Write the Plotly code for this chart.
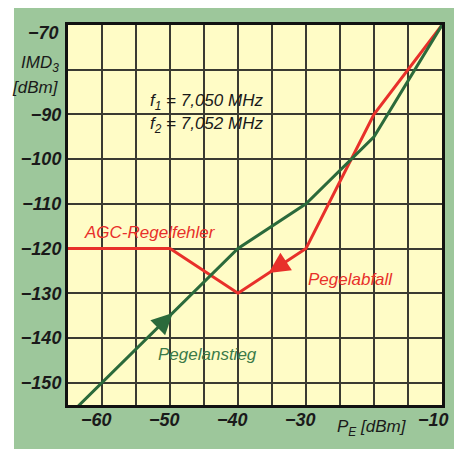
import plotly.graph_objects as go

# Data
pe_up = [-65, -40, -30, -20, -10]          # Pegelanstieg (green)
imd_up = [-157.5, -120, -110, -95, -70]
pe_down = [-65, -50, -40, -30, -20, -10]   # Pegelabfall / AGC (red)
imd_down = [-120, -120, -130, -120, -90, -70]

x_grid = [-65, -60, -55, -50, -45, -40, -35, -30, -25, -20, -15, -10]
x_label_vals = [-60, -50, -40, -30, -10]
x_label_text = ["\u221260", "\u221250", "\u221240", "\u221230", "\u221210"]
y_ticks = [-150, -140, -130, -120, -110, -100, -90, -80, -70]
y_labels = {-150: "\u2212150", -140: "\u2212140", -130: "\u2212130", -120: "\u2212120",
            -110: "\u2212110", -100: "\u2212100", -90: "\u221290", -80: "", -70: ""}

GREEN = "#2b6a3b"
RED = "#e8302a"
GRID = "#3a3a32"
FONT = "Liberation Sans, Arial, sans-serif"

fig = go.Figure()
fig.add_trace(go.Scatter(x=pe_down, y=imd_down, mode="lines",
                         line=dict(color=RED, width=3), hoverinfo="skip"))
fig.add_trace(go.Scatter(x=pe_up, y=imd_up, mode="lines",
                         line=dict(color=GREEN, width=3), hoverinfo="skip"))

tickfont = dict(family=FONT, size=18, color="#1a1a1a", style="italic", weight="bold")

# page body has an 8px margin, so the figure is laid out relative to (8, 8)
fig.update_layout(
    width=454, height=441,
    margin=dict(l=60, r=20, t=17, b=44),
    paper_bgcolor="white",
    plot_bgcolor="rgba(0,0,0,0)",
    showlegend=False,
    xaxis=dict(range=[-65, -10], tickmode="array", tickvals=x_grid,
               ticktext=["" for v in x_grid], automargin=False,
               showgrid=True, gridcolor=GRID, gridwidth=1.6, zeroline=False,
               showline=True, linecolor="#111", linewidth=3, mirror=True,
               ticks=""),
    yaxis=dict(range=[-155, -70], tickmode="array", tickvals=y_ticks,
               ticktext=[y_labels[v] for v in y_ticks], automargin=False,
               showgrid=True, gridcolor=GRID, gridwidth=1.6, zeroline=False,
               showline=True, linecolor="#111", linewidth=3, mirror=True,
               ticks="", tickfont=tickfont),
    shapes=[
        dict(type="rect", xref="paper", yref="paper", x0=-0.1444, x1=1.0321,
             y0=-0.2, y1=1.1, fillcolor="#9dc79b", line=dict(width=0), layer="below"),
        dict(type="rect", xref="paper", yref="paper", x0=0, x1=1, y0=0, y1=1,
             fillcolor="#fffcc6", line=dict(width=0), layer="below"),
    ],
)

def txt(x, y, s, color, size=17, xanchor="left", xref="x", yref="y", weight="normal"):
    fig.add_annotation(x=x, y=y, xref=xref, yref=yref, text=s, showarrow=False,
                       xanchor=xanchor, yanchor="middle",
                       font=dict(family=FONT, size=size, color=color, style="italic", weight=weight))

# x tick labels (the -20 slot carries the axis title)
for v, t in zip(x_label_vals, x_label_text):
    xv = v - 1.2 if v == -10 else v - 0.8
    txt(xv, -0.039, t, "#1a1a1a", size=18, xanchor="center", yref="paper", weight="bold")
txt(-20.3, -0.06, "P<sub>E</sub> [dBm]", "#1a1a1a", xanchor="center", yref="paper")

txt(-53.2, -87.3, "f<sub>1</sub> = 7,050 MHz", "#1a1a1a")
txt(-53.2, -92.4, "f<sub>2</sub> = 7,052 MHz", "#1a1a1a")
txt(-62.9, -116.4, "AGC-Regelfehler", RED)
txt(-30.0, -126.9, "Pegelabfall", RED)
txt(-52.1, -143.8, "Pegelanstieg", "#3b7a48")

# y-axis top label and title
fig.add_annotation(x=-0.018, y=-71.8, xref="paper", yref="y", text="\u221270", showarrow=False,
                   xanchor="right", yanchor="middle", font=tickfont)
fig.add_annotation(x=-0.018, y=-78.8, xref="paper", yref="y", text="IMD<sub>3</sub>", showarrow=False,
                   xanchor="right", yanchor="middle",
                   font=dict(family=FONT, size=17, color="#1a1a1a", style="italic"))
fig.add_annotation(x=-0.018, y=-84.0, xref="paper", yref="y", text="[dBm]", showarrow=False,
                   xanchor="right", yanchor="middle",
                   font=dict(family=FONT, size=17, color="#1a1a1a", style="italic"))

# direction arrows
fig.add_annotation(x=-49.6, y=-134.4, ax=-52.0, ay=-138.0, xref="x", yref="y", axref="x", ayref="y",
                   text="", showarrow=True, arrowhead=2, arrowsize=1.4, arrowwidth=3, arrowcolor=GREEN)
fig.add_annotation(x=-35.5, y=-125.5, ax=-33.0, ay=-123.0, xref="x", yref="y", axref="x", ayref="y",
                   text="", showarrow=True, arrowhead=2, arrowsize=1.4, arrowwidth=3, arrowcolor=RED)

fig.write_html("out.html")
